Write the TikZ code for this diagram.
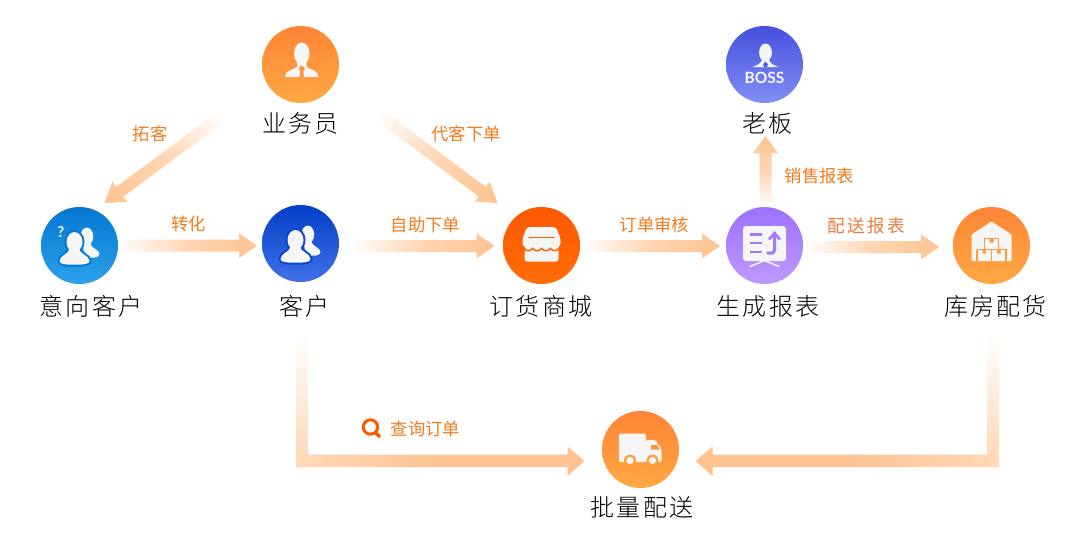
\documentclass[tikz,border=0pt]{standalone}
\usepackage{fontspec}
\setmainfont{Lato}
\newfontfamily\nmfont[UprightFont={* Light},LetterSpace=9]{Noto Sans CJK SC}
\newfontfamily\lbfont{Noto Sans CJK SC}
\newfontfamily\lbwide[LetterSpace=13]{Noto Sans CJK SC}
\usetikzlibrary{calc}
\definecolor{peach}{HTML}{FFC391}
\definecolor{peachmid}{HTML}{FFD6B3}
\definecolor{corner}{HTML}{FFD9B9}
\definecolor{lbl}{HTML}{F67A1C}
\definecolor{lblb}{HTML}{EE7B3E}
\definecolor{icw}{HTML}{F6F6F6}
\definecolor{orA}{HTML}{FF8536}\definecolor{orB}{HTML}{FFA843}
\definecolor{cyA}{HTML}{0677D2}\definecolor{cyB}{HTML}{2AA2EA}
\definecolor{bluA}{HTML}{0240C6}\definecolor{bluB}{HTML}{4270E8}
\definecolor{stA}{HTML}{FF5800}\definecolor{stB}{HTML}{FF6E06}
\definecolor{puA}{HTML}{9C72FF}\definecolor{puB}{HTML}{BE98FF}
\definecolor{boA}{HTML}{4650DE}\definecolor{boB}{HTML}{828FF3}
\tikzset{
  hub/.style 2 args={circle,minimum size=77pt,inner sep=0pt,top color=#1,bottom color=#2,shading angle=0},
  name label/.style={inner sep=0pt,font=\nmfont\fontsize{24}{24}\selectfont,text=black},
  flow label/.style={inner sep=0pt,font=\lbfont\fontsize{17.3}{18}\selectfont,text=lbl},
  flow wide/.style={inner sep=0pt,font=\lbwide\fontsize{17.6}{18}\selectfont,text=lblb},
}
% gradient block arrow from one named coordinate to another
\newcommand\flowarrow[5]{%
  \path let \p1=($(#2)-(#1)$) in \pgfextra{%
    \pgfmathsetmacro\angtmp{atan2(\y1,\x1)}\pgfmathsetmacro\lentmp{veclen(\x1,\y1)}%
    \global\let\FlowAng\angtmp\global\let\FlowLen\lentmp};
  \begin{scope}[x=1pt,y=1pt,transform canvas={shift={(#1)},rotate=\FlowAng}]
    \shade[left color=white,right color=peach,middle color=peachmid]
      (0,-#3/2) -- (\FlowLen-#4,-#3/2) -- (\FlowLen-#4,-#5/2) -- (\FlowLen,0)
      -- (\FlowLen-#4,#5/2) -- (\FlowLen-#4,#3/2) -- (0,#3/2) -- cycle;
  \end{scope}}
\newcommand\personpair[1]{%
  \fill[icw] (7.3,-9) ellipse (6.4 and 8.9);
  \fill[icw] (3,-3) -- (10.5,-3) .. controls (11,3) and (20,4) .. (20,8.5) .. controls (20,12.5) and (12,13) .. (5,11.5) -- cycle;
  \draw[#1,line width=4pt] (-5,-3.5) ellipse (8 and 10)
    (-10,3) .. controls (-10,8) and (-20,10) .. (-20,15.5) .. controls (-20,18.5) and (-15,19.2) .. (-5,19.2)
     .. controls (5,19.2) and (10,18.5) .. (10,15.5) .. controls (10,10) and (-0.5,8) .. (-0.5,3) -- cycle;
  \fill[icw] (-5,-3.5) ellipse (8 and 10);
  \fill[icw] (-10,3) .. controls (-10,8) and (-20,10) .. (-20,15.5) .. controls (-20,18.5) and (-15,19.2) .. (-5,19.2)
     .. controls (5,19.2) and (10,18.5) .. (10,15.5) .. controls (10,10) and (-0.5,8) .. (-0.5,3) -- cycle;}
\begin{document}
\begin{tikzpicture}[x=1pt,y=-1pt]
\useasboundingbox (0,0) rectangle (1079,542);
\fill[white] (0,0) rectangle (1079,542);
% hubs
\node[hub={orA}{orB}] (ywy) at (300.5,64.5) {};
\node[hub={boA}{boB}] (lb) at (764.5,64.5) {};
\node[hub={cyA}{cyB}] (yx) at (79.5,245.5) {};
\node[hub={bluA}{bluB}] (kh) at (300.5,243.5) {};
\node[hub={stA}{stB}] (sc) at (541.5,245.5) {};
\node[hub={puA}{puB}] (bb) at (764.5,245.5) {};
\node[hub={orA}{orB}] (kf) at (991.5,245.5) {};
\node[hub={orA}{orB}] (ps) at (640.5,449.5) {};
% names
\node[name label] (n1) at (300.5,123) {业务员};
\node[name label] (n2) at (767.5,123) {老板};
\node[name label] (n3) at (91,306) {意向客户};
\node[name label] (n4) at (304.5,306) {客户};
\node[name label] (n5) at (541,306) {订货商城};
\node[name label] (n6) at (768,306) {生成报表};
\node[name label] (n7) at (995.5,306) {库房配货};
\node[name label] (n8) at (642,507) {批量配送};
% flow labels
\node[flow label] (t1) at (150,133.5) {拓客};
\node[flow label] (t2) at (188.5,223.5) {转化};
\node[flow label] (t3) at (466,133.5) {代客下单};
\node[flow label] (t4) at (425.5,224.5) {自助下单};
\node[flow label] (t5) at (654.5,224.5) {订单审核};
\node[flow label] (t6) at (819.5,175.5) {销售报表};
\node[flow wide] (t7) at (866.5,225.5) {配送报表};
\node[flow label] (t8) at (425.5,428.5) {查询订单};
% connector end points
\coordinate (a1s) at (225,114); \coordinate (a1e) at (104.5,203);
\coordinate (a2s) at (376.5,113); \coordinate (a2e) at (497.5,203);
\coordinate (a3s) at (118,245.7); \coordinate (a3e) at (257,245.7);
\coordinate (a4s) at (349,246); \coordinate (a4e) at (494.5,246);
\coordinate (a5s) at (580,246); \coordinate (a5e) at (720,246);
\coordinate (a6s) at (803,247); \coordinate (a6e) at (939,247);
\coordinate (a7s) at (765.5,207); \coordinate (a7e) at (765.5,136);
\flowarrow{a1s}{a1e}{12}{19}{25}
\flowarrow{a2s}{a2e}{12}{19}{25}
\flowarrow{a3s}{a3e}{12}{18}{25}
\flowarrow{a4s}{a4e}{12}{18}{25}
\flowarrow{a5s}{a5e}{12}{18}{25}
\flowarrow{a6s}{a6e}{12}{18}{25}
\flowarrow{a7s}{a7e}{12}{17}{25}
% L arrows
\shade[top color=white,bottom color=corner] (296,335) rectangle (308,456);
\shade[left color=corner,right color=peach,middle color=peach]
  (296,454.6) -- (567.5,454.6) -- (567.5,446.5) -- (584.5,461) -- (567.5,476) -- (567.5,467.2) -- (296,467.2) -- cycle;
\shade[top color=white,bottom color=corner] (987,335) rectangle (999,456);
\shade[left color=peach,right color=corner,middle color=peach]
  (999,454.6) -- (712.5,454.6) -- (712.5,446.5) -- (695.5,461) -- (712.5,476) -- (712.5,467.2) -- (999,467.2) -- cycle;
% magnifier
\draw[stA,line width=3pt] (370.5,427) circle (7.2);
\draw[stA,line width=3.4pt,line cap=round] (376,433) -- (379.5,436.5);
% salesman icon
\begin{scope}[shift={(ywy.center)}]
  \fill[icw] (1.3,-11) ellipse (7.8 and 11);
  \fill[icw] (-15.5,12.3) .. controls (-15.5,6) and (-8,5.5) .. (-3.5,2.5) -- (-3.5,-3) -- (6.1,-3) -- (6.1,2.5) .. controls (10.5,5.5) and (18,6) .. (18,12.3) -- cycle;
  \fill[orA!70!orB] (1.3,0.8) -- (4.6,4.2) -- (2.8,5.8) -- (3.2,12.3) -- (-0.6,12.3) -- (-0.2,5.8) -- (-2,4.2) -- cycle;
\end{scope}
% boss icon
\begin{scope}[shift={(lb.center)}]
  \fill[icw] (1,-12) ellipse (6.4 and 9);
  \fill[icw] (-12,2.5) .. controls (-8,1) and (-3,-0.5) .. (-2,-6) -- (4,-6) .. controls (5,-0.5) and (10,1) .. (14,2.5) -- cycle;
  \fill[boA!70!boB] (1,-3) -- (3.5,-0.3) -- (2.6,2.5) -- (-0.6,2.5) -- (-1.5,-0.3) -- cycle;
  \node[inner sep=0pt,text=icw,font=\bfseries\fontsize{15.5}{16}\selectfont] (bosst) at (0,13) {BOSS};
\end{scope}
% people icons
\begin{scope}[shift={(yx.center)}]
  \personpair{cyA}
  \node[inner sep=0pt,text=icw,font=\bfseries\fontsize{15}{15}\selectfont] (q) at (-18.7,-13.5) {?};
\end{scope}
\begin{scope}[shift={(kh.center)}]
  \personpair{bluA!88!bluB}
\end{scope}
% shop icon
\begin{scope}[shift={(sc.center)}]
  \fill[icw,rounded corners=2.5pt] (-17,-2) rectangle (17,16);
  \fill[icw,rounded corners=3pt] (-14.5,-18.5) -- (14.5,-18.5) -- (19,-7) -- (19,1) -- (-19,1) -- (-19,-7) -- cycle;
  \draw[stA,line width=1.9pt,line cap=round] (-12.5,-8) -- (12.5,-8);
  \draw[stA!85!stB,line width=1.4pt] (-17.5,2.8) .. controls (-15,6) and (-11,6) .. (-9,2.8)
     .. controls (-7,6) and (-2,6) .. (0,2.8) .. controls (2,6) and (7,6) .. (9,2.8) .. controls (11,6) and (15,6) .. (17.5,2.8);
  \fill[stA!85!stB] (-19.5,2.2) -- (-17.5,2.8) .. controls (-18.5,4) and (-18,5) .. (-17,6) -- (-19.5,6) -- cycle;
  \fill[stA!85!stB] (19.5,2.2) -- (17.5,2.8) .. controls (18.5,4) and (18,5) .. (17,6) -- (19.5,6) -- cycle;
\end{scope}
% report icon
\begin{scope}[shift={(bb.center)}]
  \fill[icw,rounded corners=3pt] (-21.5,-19.5) rectangle (21.5,15.5);
  \draw[icw,line width=1.5pt,line cap=round] (-14.5,21) -- (0,15) -- (14.5,21);
  \draw[puA!85!puB,line width=2.4pt] (-14.5,-11) -- (-3,-11) (-14.5,-2.5) -- (-3,-2.5) (-14.5,6.5) -- (-3,6.5);
  \draw[puA!85!puB,line width=3pt,line cap=round] (3,7.5) -- (7,7.5) .. controls (9,7.5) and (10,6.5) .. (10,4) -- (10,-11);
  \fill[puA!85!puB] (10,-14.5) -- (16.8,-6.5) -- (14,-5.5) -- (10,-10.5) -- (6,-5.5) -- (3.2,-6.5) -- cycle;
\end{scope}
% warehouse icon
\begin{scope}[shift={(kf.center)}]
  \fill[icw,rounded corners=1pt] (0,-24) -- (20,-11) -- (20,15.5) -- (-20,15.5) -- (-20,-11) -- cycle;
  \draw[orA!40!orB,line width=1.7pt] (-7,-7) rectangle (7,4);
  \draw[orA!40!orB,line width=1.7pt] (-14.5,4) -- (-14.5,15.5) (-14.5,4) -- (14.5,4) -- (14.5,15.5) (0,4) -- (0,15.5);
  \fill[orA!40!orB] (-2,-7) rectangle (2,-3) (-9,4) rectangle (-5.5,8) (5.5,4) rectangle (9,8);
\end{scope}
% truck icon
\begin{scope}[shift={(ps.center)}]
  \fill[icw,rounded corners=1.5pt] (-21.5,-16) rectangle (5.5,12.5);
  \fill[icw,rounded corners=1.5pt] (5,-9.5) -- (15,-9.5) -- (21,0) -- (21,12.5) -- (5,12.5) -- cycle;
  \fill[orA!45!orB] (10.5,-4.5) -- (17,-4.5) -- (19,0) -- (10.5,0) -- cycle;
  \fill[orA!25!orB] (-10.5,11) circle (6) (12,11) circle (6);
  \fill[icw] (-10.5,11) circle (3.6) (12,11) circle (3.6);
\end{scope}
\end{tikzpicture}
\end{document}
